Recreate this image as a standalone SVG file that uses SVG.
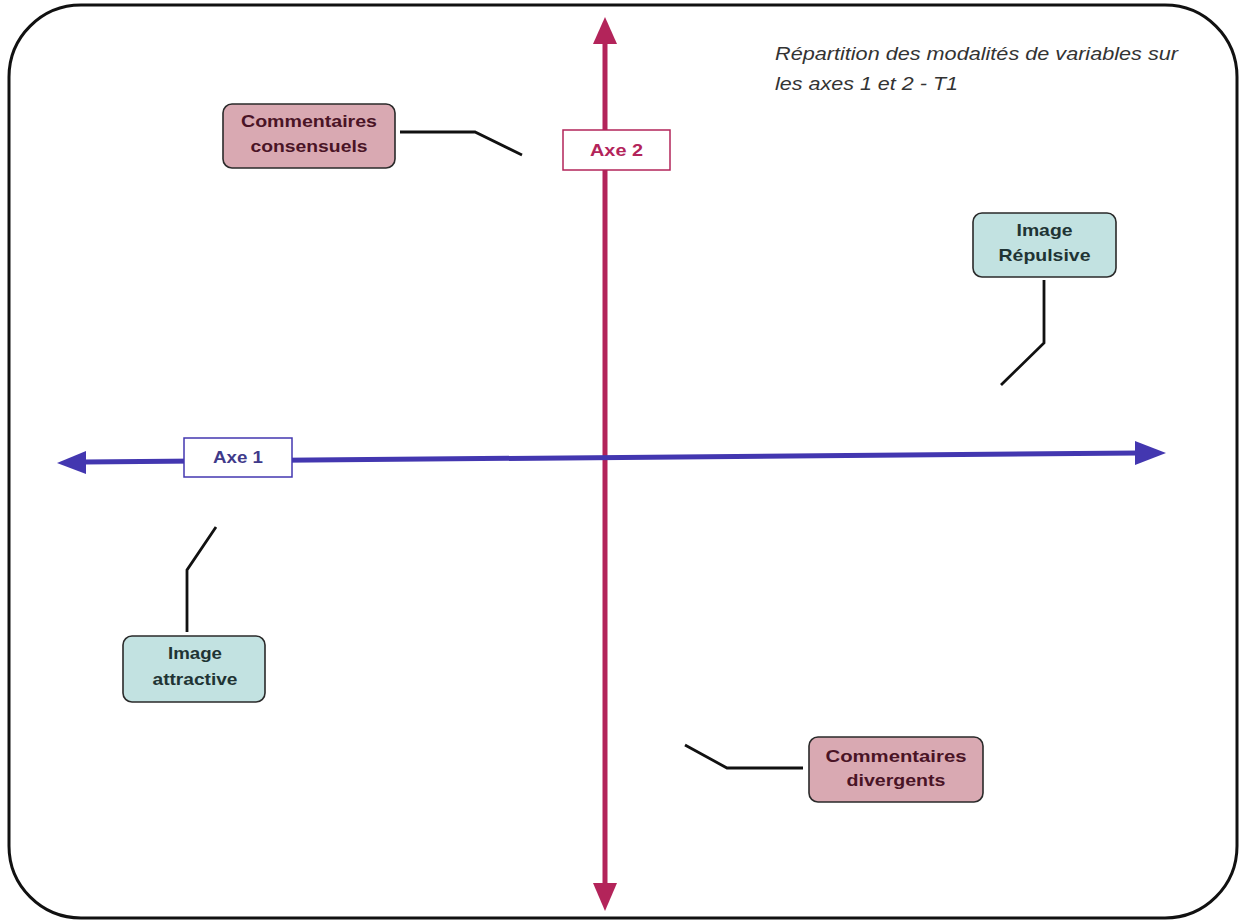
<svg xmlns="http://www.w3.org/2000/svg" width="1242" height="923" viewBox="0 0 1242 923">
<style>
.box{stroke:#2a2a2a;stroke-width:1.6}
.pink{fill:#D9A9B2}
.teal{fill:#C2E2E1}
.lbl{font-family:"Liberation Sans",Arial,sans-serif;font-weight:bold;font-size:17px;text-anchor:middle}
.pt{fill:#4a1426}
.tt{fill:#1f3434}
.conn{fill:none;stroke:#111;stroke-width:2.8}
</style>
<rect width="1242" height="923" fill="#fff"/>
<rect id="frame" x="9" y="5" width="1228" height="913" rx="72" ry="72" fill="none" stroke="#111" stroke-width="3"/>
<g id="title">
<text font-family="'Liberation Sans',Arial,sans-serif" font-style="italic" font-size="18" fill="#333">
<tspan x="775" y="60" textLength="403" lengthAdjust="spacingAndGlyphs">Répartition des modalités de variables sur</tspan>
<tspan x="775" y="90" textLength="183" lengthAdjust="spacingAndGlyphs">les axes 1 et 2 - T1</tspan>
</text>
</g>
<g id="axis2">
<line x1="605" y1="40" x2="605" y2="885" stroke="#B3245A" stroke-width="5"/>
<polygon points="605,17 593,44 617,44" fill="#B3245A"/>
<polygon points="605,911 593,883 617,883" fill="#B3245A"/>
</g>
<g id="axis1">
<line x1="84" y1="462" x2="1138" y2="453" stroke="#4337B0" stroke-width="5"/>
<polygon points="57,463 86,451 86,474" fill="#4337B0"/>
<polygon points="1166,453 1135,441 1135,465" fill="#4337B0"/>
</g>
<g id="connectors">
<polyline class="conn" points="400,132 475,132 522,155"/>
<polyline class="conn" points="1044,280 1044,343 1001,385"/>
<polyline class="conn" points="187,632 187,570 216,527"/>
<polyline class="conn" points="685,745 727,768 803,768"/>
</g>
<g id="axe2-label">
<rect x="563" y="130" width="107" height="40" fill="#fff" stroke="#B3245A" stroke-width="1.5"/>
<text class="lbl" x="616.5" y="156" fill="#B3245A" textLength="53" lengthAdjust="spacingAndGlyphs">Axe 2</text>
</g>
<g id="axe1-label">
<rect x="184" y="438" width="108" height="39" fill="#fff" stroke="#4337B0" stroke-width="1.5"/>
<text class="lbl" x="238" y="463" fill="#3f3a8a" textLength="50" lengthAdjust="spacingAndGlyphs">Axe 1</text>
</g>
<g id="commentaires-consensuels">
<rect class="box pink" x="223" y="104" width="172" height="64" rx="9"/>
<text class="lbl pt"><tspan x="309" y="127" textLength="136" lengthAdjust="spacingAndGlyphs">Commentaires</tspan><tspan x="309" y="152" textLength="117" lengthAdjust="spacingAndGlyphs">consensuels</tspan></text>
</g>
<g id="image-repulsive">
<rect class="box teal" x="973" y="213" width="143" height="64" rx="9"/>
<text class="lbl tt"><tspan x="1044.5" y="236" textLength="56" lengthAdjust="spacingAndGlyphs">Image</tspan><tspan x="1044.5" y="261" textLength="92" lengthAdjust="spacingAndGlyphs">Répulsive</tspan></text>
</g>
<g id="image-attractive">
<rect class="box teal" x="123" y="636" width="142" height="66" rx="9"/>
<text class="lbl tt"><tspan x="195" y="659" textLength="54" lengthAdjust="spacingAndGlyphs">Image</tspan><tspan x="195" y="685" textLength="85" lengthAdjust="spacingAndGlyphs">attractive</tspan></text>
</g>
<g id="commentaires-divergents">
<rect class="box pink" x="809" y="737" width="174" height="65" rx="9"/>
<text class="lbl pt"><tspan x="896" y="762" textLength="141" lengthAdjust="spacingAndGlyphs">Commentaires</tspan><tspan x="896" y="786" textLength="99" lengthAdjust="spacingAndGlyphs">divergents</tspan></text>
</g>
</svg>
